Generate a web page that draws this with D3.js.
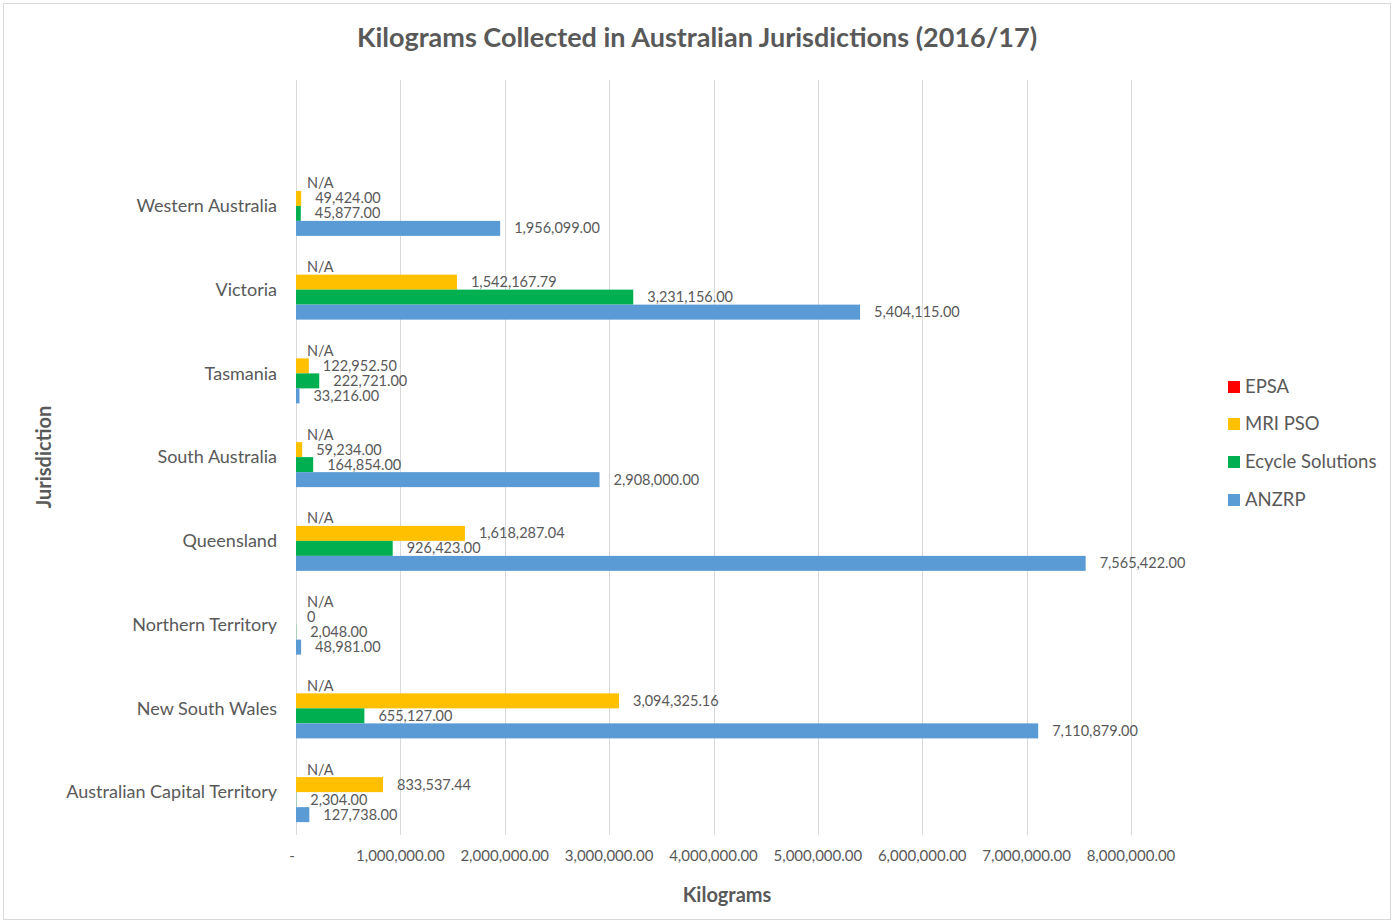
<!DOCTYPE html>
<html>
<head>
<meta charset="utf-8">
<script src="https://cdn.jsdelivr.net/npm/d3@7"></script>
<style>
  html, body { margin: 0; padding: 0; background: #fff; }
  svg { display: block; font-family: Lato, "Open Sans", sans-serif; }
</style>
</head>
<body>
<svg id="chart" width="1397" height="922"></svg>
<script>
// ---- Data ----
const categories = ["Western Australia", "Victoria", "Tasmania", "South Australia",
  "Queensland", "Northern Territory", "New South Wales", "Australian Capital Territory"];
const seriesNames = ["EPSA", "MRI PSO", "Ecycle Solutions", "ANZRP"];
const seriesColors = ["#FF0000", "#FFC000", "#00B050", "#5B9BD5"];
const epsa    = [null, null, null, null, null, null, null, null];
const mriPso  = [49424.00, 1542167.79, 122952.50, 59234.00, 1618287.04, 0, 3094325.16, 833537.44];
const ecycle  = [45877.00, 3231156.00, 222721.00, 164854.00, 926423.00, 2048.00, 655127.00, 2304.00];
const anzrp   = [1956099.00, 5404115.00, 33216.00, 2908000.00, 7565422.00, 48981.00, 7110879.00, 127738.00];
const seriesValues = [epsa, mriPso, ecycle, anzrp];
const xTicks = [0, 1000000, 2000000, 3000000, 4000000, 5000000, 6000000, 7000000, 8000000];
const title = "Kilograms Collected in Australian Jurisdictions (2016/17)";
const xTitle = "Kilograms";
const yTitle = "Jurisdiction";

// ---- Layout ----
const svg = d3.select("#chart");
const textColor = "#595959";
const gridColor = "#d9d9d9";
const plotTop = 80, plotBottom = 835;

svg.append("rect").attr("x", 3.5).attr("y", 3.5).attr("width", 1387).attr("height", 916)
  .attr("fill", "#fff").attr("stroke", "#d9d9d9");

const x = d3.scaleLinear().domain([0, 8000000]).range([296, 1131]);
const y = d3.scaleBand().domain(categories).range([164, 834])
  .paddingInner(0.2836).paddingOuter(0.1418);
const ySub = d3.scaleBand().domain(seriesNames).range([0, y.bandwidth()]);

// gridlines
svg.append("g").selectAll("line").data(xTicks).join("line")
  .attr("x1", d => Math.round(x(d)) + 0.5).attr("x2", d => Math.round(x(d)) + 0.5)
  .attr("y1", plotTop).attr("y2", plotBottom)
  .attr("stroke", gridColor).attr("stroke-width", 1);

// x tick labels
const fmt = d3.format(",.2f");
svg.append("g").selectAll("text").data(xTicks).join("text")
  .attr("x", d => d === 0 ? x(d) - 4 : x(d))
  .attr("y", 861)
  .attr("text-anchor", "middle")
  .attr("font-size", 15)
  .attr("fill", textColor)
  .text(d => d === 0 ? "-" : fmt(d));

// category labels
svg.append("g").selectAll("text").data(categories).join("text")
  .attr("x", 277)
  .attr("y", d => y(d) + y.bandwidth() / 2)
  .attr("dy", "0.35em")
  .attr("text-anchor", "end")
  .attr("font-size", 18)
  .attr("fill", textColor)
  .text(d => d);

// bars and labels
const flat = [];
seriesNames.forEach((s, si) => {
  categories.forEach((c, ci) => {
    flat.push({ s, si, c, v: seriesValues[si][ci] });
  });
});

svg.append("g").selectAll("rect").data(flat.filter(d => d.v)).join("rect")
  .attr("x", x(0))
  .attr("y", d => y(d.c) + ySub(d.s))
  .attr("width", d => x(d.v) - x(0))
  .attr("height", ySub.bandwidth())
  .attr("fill", d => seriesColors[d.si]);

svg.append("g").selectAll("text").data(flat).join("text")
  .attr("x", d => (d.v ? x(d.v) + 14 : x(0) + 11))
  .attr("y", d => y(d.c) + ySub(d.s) + ySub.bandwidth() / 2)
  .attr("dy", "0.35em")
  .attr("font-size", 14.5)
  .attr("fill", textColor)
  .text(d => d.v === null ? "N/A" : (d.v === 0 ? "0" : fmt(d.v)));

// title
svg.append("text").attr("x", 697).attr("y", 47).attr("text-anchor", "middle")
  .attr("font-size", 27).attr("font-weight", "bold").attr("fill", textColor).text(title);

// axis titles
svg.append("text").attr("x", 727).attr("y", 902).attr("text-anchor", "middle")
  .attr("font-size", 20).attr("font-weight", "bold").attr("fill", textColor).text(xTitle);
svg.append("text").attr("transform", "translate(51,457) rotate(-90)").attr("text-anchor", "middle")
  .attr("font-size", 20).attr("font-weight", "bold").attr("fill", textColor).text(yTitle);

// legend
const legendY = [387, 424, 462, 500];
const lg = svg.append("g").selectAll("g").data(seriesNames).join("g")
  .attr("transform", (d, i) => `translate(1228,${legendY[i]})`);
lg.append("rect").attr("x", 0).attr("y", -6).attr("width", 12).attr("height", 12)
  .attr("fill", (d, i) => seriesColors[i]);
lg.append("text").attr("x", 17).attr("y", 0).attr("dy", "0.35em")
  .attr("font-size", 18.5).attr("fill", textColor).text(d => d);
</script>
</body>
</html>
